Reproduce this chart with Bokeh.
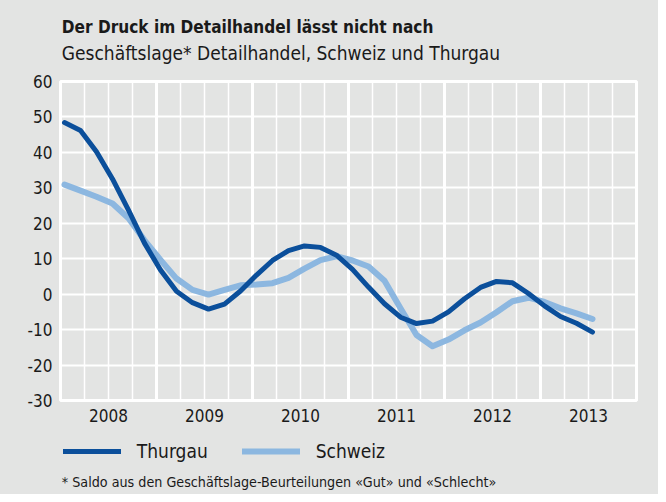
from bokeh.plotting import figure
from bokeh.layouts import column
from bokeh.models import Range1d, FixedTicker, Grid, Title, Legend, LegendItem
from bokeh.embed import file_html
from bokeh.resources import INLINE

# ---------------- data ----------------
title_text = "Der Druck im Detailhandel lässt nicht nach"
subtitle_text = "Geschäftslage* Detailhandel, Schweiz und Thurgau"
footnote_text = "* Saldo aus den Geschäftslage-Beurteilungen «Gut» und «Schlecht»"

years = [2008, 2009, 2010, 2011, 2012, 2013]
year_labels = ["2008", "2009", "2010", "2011", "2012", "2013"]
y_ticks = [-30, -20, -10, 0, 10, 20, 30, 40, 50, 60]
y_labels = ["-30", "-20", "-10", "0", "10", "20", "30", "40", "50", "60"]

# month index (0 = January 2008), every second month up to July 2013
months = list(range(0, 67, 2))

thurgau = [48.4, 46.2, 40.2, 32.5, 23.7, 14.4, 6.8, 0.8, -2.4, -4.2,
           -2.8, 0.9, 5.4, 9.5, 12.3, 13.6, 13.2, 11.0, 7.0, 2.0,
           -2.7, -6.5, -8.3, -7.6, -5.0, -1.3, 1.9, 3.6, 3.2, 0.2,
           -3.3, -6.3, -8.2, -10.7]

schweiz = [30.9, 29.2, 27.5, 25.6, 21.4, 15.2, 9.7, 4.4, 1.2, -0.1,
           1.2, 2.5, 2.7, 3.1, 4.6, 7.2, 9.6, 10.7, 9.5, 7.8,
           3.8, -4.0, -11.5, -14.7, -12.8, -10.2, -8.0, -5.1, -2.0, -1.0,
           -2.2, -4.0, -5.4, -7.0]

t = [years[0] + (m + 0.5) / 12 for m in months]

# ---------------- style ----------------
BG = "#e3e4e3"
DARK = "#0b4f9b"
LIGHT = "#8cb7e0"
TXT = "#1a1a1a"
FONT = "'DejaVu Sans Condensed', 'Liberation Sans Narrow', sans-serif"
W = 658
H_TOP, H_MAIN, H_BOT = 66, 372, 56
LEFT, RIGHT = 60, 22
BG_STYLE = {"background-color": BG}


def panel_figure(height):
    f = figure(width=W, height=height, title=None,
               x_range=Range1d(0, 1), y_range=Range1d(0, 1),
               x_axis_location=None, y_axis_location=None,
               output_backend="svg", toolbar_location=None,
               background_fill_color=BG, border_fill_color=BG,
               min_border_left=LEFT, min_border_right=RIGHT,
               min_border_top=0, min_border_bottom=0,
               styles=BG_STYLE)
    f.outline_line_color = None
    f.grid.visible = False
    return f


# ---------------- header (titles stacked below an empty frame) ----------------
head = panel_figure(H_TOP)
head.add_layout(Title(text=title_text, align="left", offset=1.3, standoff=1,
                      text_font=FONT, text_font_size="17.1px",
                      text_font_style="bold", text_color=TXT), "below")
head.add_layout(Title(text=subtitle_text, align="left", offset=1.3, standoff=5,
                      text_font=FONT, text_font_size="19px",
                      text_font_style="normal", text_color=TXT), "below")

# ---------------- main chart ----------------
x0, x1 = years[0], years[-1] + 1
p = figure(width=W, height=H_MAIN, title=None,
           x_range=Range1d(x0, x1), y_range=Range1d(y_ticks[0], y_ticks[-1]),
           output_backend="svg", toolbar_location=None,
           background_fill_color=BG, border_fill_color=BG,
           min_border_left=LEFT, min_border_right=RIGHT,
           min_border_top=15, min_border_bottom=38,
           styles=BG_STYLE)
p.outline_line_color = "white"
p.outline_line_width = 3

p.xaxis.ticker = FixedTicker(ticks=[y + 0.5 for y in years])
p.xaxis.major_label_overrides = {y + 0.5: lab for y, lab in zip(years, year_labels)}
p.yaxis.ticker = FixedTicker(ticks=y_ticks)
p.yaxis.major_label_overrides = {v: lab for v, lab in zip(y_ticks, y_labels)}
for ax in (p.xaxis[0], p.yaxis[0]):
    ax.axis_line_color = None
    ax.major_tick_line_color = None
    ax.minor_tick_line_color = None
    ax.major_tick_out = 0
    ax.major_tick_in = 0
    ax.major_label_text_font = FONT
    ax.major_label_text_font_size = "17px"
    ax.major_label_text_color = TXT
p.xaxis.major_label_standoff = 8
p.yaxis.major_label_standoff = 8

quarters = [x0 + q / 4 for q in range(1, 4 * (x1 - x0)) if q % 4 != 0]
p.xgrid.ticker = FixedTicker(ticks=quarters)
p.xgrid.grid_line_color = "white"
p.xgrid.grid_line_width = 1.5
p.ygrid.ticker = FixedTicker(ticks=y_ticks)
p.ygrid.grid_line_color = "white"
p.ygrid.grid_line_width = 2
p.add_layout(Grid(dimension=0, ticker=FixedTicker(ticks=years[1:]),
                  grid_line_color="white", grid_line_width=3))

p.line(t, schweiz, line_color=LIGHT, line_width=6,
       line_cap="round", line_join="round")
p.line(t, thurgau, line_color=DARK, line_width=5,
       line_cap="round", line_join="round")

# ---------------- legend + footnote ----------------
foot = panel_figure(H_BOT)
# same series, outside this panel's visible range: only used by the legend
lt = foot.line(t, thurgau, line_color=DARK, line_width=5, line_cap="round")
ls = foot.line(t, schweiz, line_color=LIGHT, line_width=6, line_cap="round")
legend = Legend(items=[LegendItem(label="Thurgau", renderers=[lt]),
                       LegendItem(label="Schweiz", renderers=[ls])],
                location=(2.8, 4), orientation="horizontal",
                glyph_width=58, glyph_height=24, label_standoff=16,
                spacing=34, padding=0, margin=0,
                background_fill_alpha=0, border_line_color=None,
                label_text_font=FONT, label_text_font_size="19px",
                label_text_color=TXT)
foot.add_layout(legend)
foot.add_layout(Title(text=footnote_text, align="left", offset=1.3, standoff=9,
                      text_font=FONT, text_font_size="14.2px",
                      text_font_style="normal", text_color=TXT), "below")

layout = column(head, p, foot, spacing=0, styles=BG_STYLE)
open("out.html", "w").write(file_html(layout, INLINE))
